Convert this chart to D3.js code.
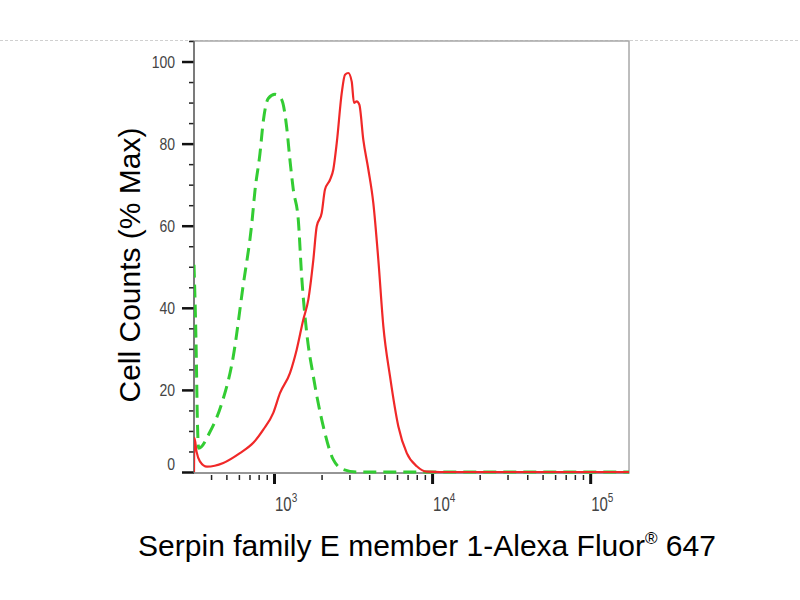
<!DOCTYPE html>
<html lang="en">
<head>
<meta charset="UTF-8">
<title>Serpin family E member 1 - flow cytometry histogram</title>
<script src="https://d3js.org/d3.v7.min.js"></script>
<style>
  body { margin: 0; background: #fff; }
  svg { display: block; font-family: "Liberation Sans", Arial, sans-serif; }
  .tick text { fill: #444; }
</style>
</head>
<body>
<svg id="chart" width="800" height="600"></svg>
<script>
// isotype control (green dashed): fluorescence intensity vs % of max
const isotypeX = [312, 322, 328, 334, 394, 470, 552, 636, 726, 758, 815, 856, 920, 1015, 1119, 1203, 1262, 1325, 1425, 1497, 1611, 1774, 2051, 2373, 2746, 3337, 10000, 176000];
const isotypeY = [50.5, 30, 12, 5.8, 9.8, 17, 28, 45, 61, 68.5, 77.5, 85.5, 91, 92, 90.7, 84, 76, 68.8, 61.4, 47.6, 33.9, 23.3, 11.1, 3.0, 0.6, 0, 0, 0];

// stained sample (red solid)
const stainedX = [312, 314, 324, 340, 377, 478, 609, 740, 856, 990, 1091, 1262, 1392, 1532, 1649, 1774, 1863, 2004, 2102, 2262, 2373, 2494, 2682, 2813, 2953, 3103, 3207, 3337, 3467, 3674, 3953, 4250, 4571, 4918, 5420, 6120, 6918, 8000, 9250, 11240, 176000];
const stainedY = [0, 8.3, 4.9, 2.6, 1.3, 2.2, 4.6, 7.1, 10.3, 14.4, 19.2, 24.1, 29.8, 37.1, 42.0, 51.7, 59.8, 63.1, 68.8, 71.2, 73.7, 80.1, 92.3, 96.8, 97.2, 95.1, 89.9, 90.3, 89.5, 80.9, 73.7, 65.5, 51.7, 35.5, 23.3, 11.1, 4.6, 1.4, 0.1, 0, 0];

// axes
const xDomain = [312, 176000];
const xDecades = [1e3, 1e4, 1e5];
const xExponents = ["3", "4", "5"];
const yDomain = [0, 105];
const yMajorTicks = [0, 20, 40, 60, 80, 100];

const xTitle = "Serpin family E member 1-Alexa Fluor";
const yTitle = "Cell Counts (% Max)";

const svg = d3.select("#chart");
const plot = {left: 194, top: 41, right: 629, bottom: 473};

// faint dotted guide line across the page
svg.append("line")
    .attr("x1", 0).attr("x2", 800).attr("y1", 40.5).attr("y2", 40.5)
    .attr("stroke", "#d0d0d0").attr("stroke-width", 1).attr("stroke-dasharray", "3,2");

const x = d3.scaleLog().domain(xDomain).range([plot.left, plot.right]);
const y = d3.scaleLinear().domain(yDomain).range([plot.bottom - 1, plot.top]);

// minor ticks for each decade (2..9 x 10^n) inside the domain
const xMinor = [];
[100, 1000, 10000, 100000].forEach(base => {
    d3.range(2, 10).forEach(m => {
        const v = base * m;
        if (v > xDomain[0] && v < xDomain[1]) xMinor.push(v);
    });
});
const yMinor = d3.range(0, 106, 5).filter(v => !yMajorTicks.includes(v));

svg.append("rect")
    .attr("x", plot.left).attr("y", plot.top)
    .attr("width", plot.right - plot.left).attr("height", plot.bottom - plot.top)
    .attr("fill", "#fff").attr("stroke", "#a8a8a8").attr("stroke-width", 1.5);

svg.append("clipPath").attr("id", "clip")
  .append("rect")
    .attr("x", plot.left).attr("y", plot.top)
    .attr("width", plot.right - plot.left).attr("height", plot.bottom - plot.top + 1);

// x axis ticks
const gxMinor = svg.append("g").attr("transform", `translate(0,${plot.bottom})`)
    .call(d3.axisBottom(x).tickValues(xMinor).tickSize(7).tickFormat(""));
gxMinor.select(".domain").remove();
gxMinor.selectAll(".tick line").attr("stroke", "#222").attr("stroke-width", 1.5).attr("y1", 2);

const gxMajor = svg.append("g").attr("transform", `translate(0,${plot.bottom})`)
    .call(d3.axisBottom(x).tickValues(xDecades).tickSize(11).tickFormat(""));
gxMajor.select(".domain").remove();
gxMajor.selectAll(".tick line").attr("stroke", "#111").attr("stroke-width", 3).attr("y1", 1);

const xLabels = svg.append("g").selectAll("text")
    .data(xDecades)
    .join("text")
    .attr("transform", d => `translate(${x(d) + 1},511) scale(1,1.3)`)
    .attr("fill", "#444")
    .style("font-size", "15px");
xLabels.append("tspan").text("10");
xLabels.append("tspan")
    .attr("dy", -7)
    .style("font-size", "10px")
    .text((d, i) => xExponents[i]);

// y axis ticks
const gyMinor = svg.append("g").attr("transform", `translate(${plot.left},0)`)
    .call(d3.axisLeft(y).tickValues(yMinor).tickSize(5).tickFormat(""));
gyMinor.select(".domain").remove();
gyMinor.selectAll(".tick line").attr("stroke", "#222").attr("stroke-width", 1.5);

const gyMajor = svg.append("g").attr("transform", `translate(${plot.left},0)`)
    .call(d3.axisLeft(y).tickValues(yMajorTicks).tickSize(12).tickPadding(7));
gyMajor.select(".domain").remove();
gyMajor.selectAll(".tick line").attr("stroke", "#111").attr("stroke-width", 2.5);
gyMajor.selectAll(".tick text").style("font-size", "14px")
    .attr("transform", "scale(1,1.2)")
    .attr("dy", d => d === 0 ? "-0.15em" : "0.33em");

// axis lines
svg.append("line")
    .attr("x1", plot.left).attr("x2", plot.left)
    .attr("y1", plot.top).attr("y2", plot.bottom)
    .attr("stroke", "#666").attr("stroke-width", 1.5);
svg.append("line")
    .attr("x1", plot.left).attr("x2", plot.right)
    .attr("y1", plot.bottom).attr("y2", plot.bottom)
    .attr("stroke", "#888").attr("stroke-width", 1.5);

// histograms
const line = d3.line()
    .x(d => x(d[0]))
    .y(d => y(d[1]))
    .curve(d3.curveMonotoneX);

const curves = svg.append("g").attr("clip-path", "url(#clip)");
curves.append("path")
    .datum(d3.zip(isotypeX, isotypeY))
    .attr("d", line)
    .attr("fill", "none")
    .attr("stroke", "#33cc33")
    .attr("stroke-width", 3)
    .attr("stroke-dasharray", "13,7");
curves.append("path")
    .datum(d3.zip(stainedX, stainedY))
    .attr("d", line)
    .attr("fill", "none")
    .attr("stroke", "#f02828")
    .attr("stroke-width", 2.2);

// titles
const xt = svg.append("text")
    .attr("x", 427).attr("y", 556)
    .attr("text-anchor", "middle")
    .attr("fill", "#000")
    .style("font-size", "30px");
xt.append("tspan").text(xTitle);
xt.append("tspan").attr("dy", -12).style("font-size", "17px").text("®");
xt.append("tspan").attr("dy", 12).text(" 647");

svg.append("text")
    .attr("transform", "translate(140,265) rotate(-90)")
    .attr("text-anchor", "middle")
    .attr("fill", "#000")
    .style("font-size", "30px")
    .text(yTitle);
</script>
</body>
</html>
